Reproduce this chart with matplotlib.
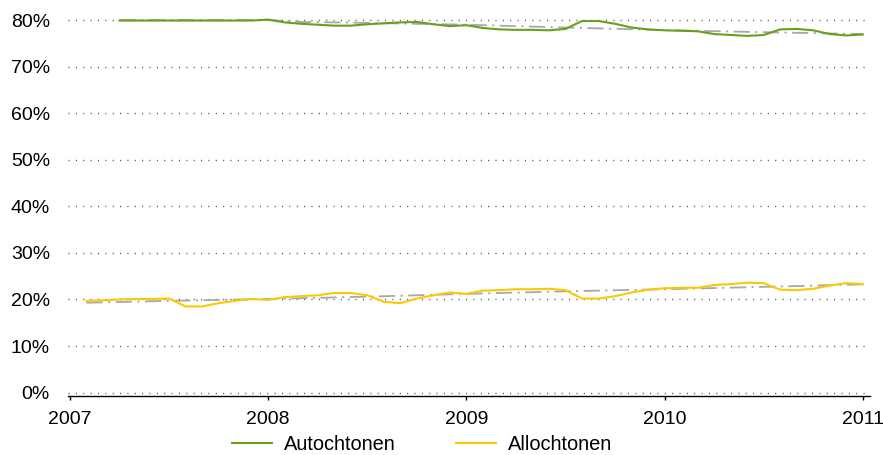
import matplotlib.pyplot as plt
import numpy as np

# month index counted from Jan 2007 (0 = Jan 2007, 48 = Jan 2011)
auto_months = list(range(3, 49))
auto_pct = [79.9, 79.9, 79.9, 79.9, 79.9, 79.9, 79.9, 79.9, 79.9, 80.1,
            79.5, 79.2, 79.0, 78.8, 78.8, 79.1, 79.3, 79.5, 79.6, 79.1,
            78.7, 78.9, 78.3, 78.0, 77.9, 77.9, 77.8, 78.1, 79.8, 79.8,
            79.2, 78.4, 78.0, 77.8, 77.7, 77.6, 77.0, 76.8, 76.6, 76.8,
            78.0, 78.1, 77.8, 77.0, 76.7, 76.9]

allo_months = list(range(1, 49))
allo_pct = [19.7, 19.8, 20.0, 20.1, 20.1, 20.2, 18.5, 18.5, 19.2, 19.7,
            20.1, 19.9, 20.5, 20.7, 20.9, 21.4, 21.4, 20.9, 19.5, 19.2,
            20.2, 20.9, 21.5, 21.2, 21.9, 22.0, 22.2, 22.2, 22.3, 22.0,
            20.2, 20.2, 20.7, 21.5, 22.1, 22.4, 22.5, 22.5, 23.1, 23.3,
            23.6, 23.5, 22.1, 22.0, 22.3, 23.0, 23.5, 23.3]

# grey trend lines
auto_trend_months = [3, 12, 14, 18, 24, 30, 36, 42, 48]
auto_trend_pct = [80.0, 80.0, 79.6, 79.4, 79.0, 78.4, 77.85, 77.4, 77.0]
allo_trend_months = [1, 6, 12, 18, 24, 30, 36, 42, 48]
allo_trend_pct = [19.3, 19.7, 20.1, 20.6, 21.2, 21.75, 22.2, 22.7, 23.25]

years = [2007, 2008, 2009, 2010, 2011]
grid_pct = [0, 10, 20, 30, 40, 50, 60, 70, 80]


def to_x(months):
    return 2007 + np.array(months) / 12.0


plt.rcParams['font.family'] = ['Liberation Sans', 'DejaVu Sans']

fig = plt.figure(figsize=(8.83, 4.55), dpi=100)
ax = fig.add_axes([0.077, 0.13, 0.908, 0.831])

for g in grid_pct:
    ax.axhline(g / 100, color='#555555', lw=1.0, ls=(0, (0.8, 4.5)), zorder=1)

trend_style = dict(color='#a8a8a8', lw=1.3, ls=(0, (9, 3, 1.2, 3)), zorder=2)
ax.plot(to_x(auto_trend_months), np.array(auto_trend_pct) / 100, **trend_style)
ax.plot(to_x(allo_trend_months), np.array(allo_trend_pct) / 100, **trend_style)

ax.plot(to_x(auto_months), np.array(auto_pct) / 100, color='#6a9f1c', lw=1.5,
        label='Autochtonen', zorder=3, clip_on=False)
ax.plot(to_x(allo_months), np.array(allo_pct) / 100, color='#fcc800', lw=1.5,
        label='Allochtonen', zorder=3, clip_on=False)

ax.set_xlim(2006.99, 2011.035)
ax.set_ylim(-0.007, 0.805)

ax.set_xticks(years)
ax.set_xticklabels([str(y) for y in years])
ax.set_yticks([g / 100 for g in grid_pct])
ax.set_yticklabels([f'{g}%' for g in grid_pct])

for side in ['top', 'right', 'left']:
    ax.spines[side].set_visible(False)
ax.spines['bottom'].set_linewidth(1.0)

ax.tick_params(axis='x', direction='out', length=3, width=1, pad=8, labelsize=14)
ax.tick_params(axis='y', length=0, pad=13, labelsize=14)

fig.legend(loc='center', bbox_to_anchor=(422 / 883, 1 - 444 / 455), ncol=2,
           frameon=False, fontsize=14.4, handlelength=2.0, handletextpad=0.6,
           columnspacing=3.0)

fig.savefig('out.png', dpi=100)
